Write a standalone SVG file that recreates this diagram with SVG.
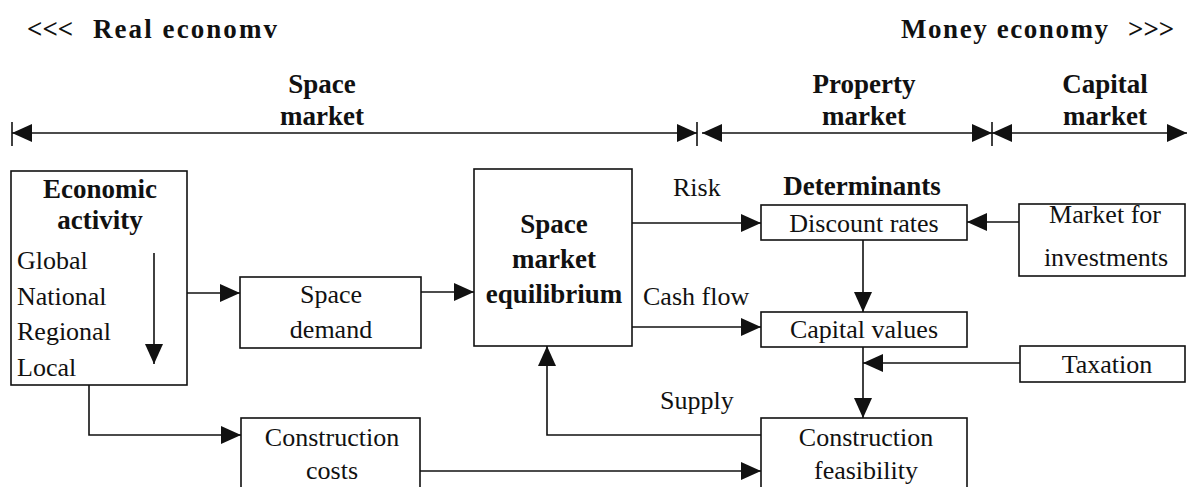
<svg xmlns="http://www.w3.org/2000/svg" width="1187" height="487" viewBox="0 0 1187 487">
  <style>
    .box { fill: #fff; stroke: #111; stroke-width: 1.6; }
    .ln { fill: none; stroke: #111; stroke-width: 1.6; }
    .t { font-family: "Liberation Serif", "Times New Roman", serif; font-size: 26px; fill: #111; }
    .b { font-weight: bold; font-size: 27px; }
    .c { text-anchor: middle; }
  </style>
  <defs>
    <marker id="arr" viewBox="0 0 20 18" refX="20" refY="9" markerWidth="20" markerHeight="18" orient="auto-start-reverse" markerUnits="userSpaceOnUse">
      <path d="M0,0 L20,9 L0,18 Z" fill="#111"/>
    </marker>
  </defs>

  <!-- economy headings -->
  <g id="headings">
    <text class="t b" x="27" y="38" xml:space="preserve">&lt;&lt;&lt;</text>
    <text class="t b" x="93" y="38" textLength="184" lengthAdjust="spacing">Real economv</text>
    <text class="t b" x="901" y="38" textLength="207" lengthAdjust="spacing">Money economy</text>
    <text class="t b" x="1128" y="38">&gt;&gt;&gt;</text>
  </g>

  <!-- market spans -->
  <g id="market-spans">
    <text class="t b c" x="322" y="93">Space</text>
    <text class="t b c" x="322" y="125">market</text>
    <text class="t b c" x="864" y="93">Property</text>
    <text class="t b c" x="864" y="125">market</text>
    <text class="t b c" x="1105" y="93">Capital</text>
    <text class="t b c" x="1105" y="125">market</text>
    <line class="ln" x1="12" y1="122" x2="12" y2="146"/>
    <line class="ln" x1="697" y1="122" x2="697" y2="146"/>
    <line class="ln" x1="992" y1="122" x2="992" y2="146"/>
    <line class="ln" x1="12" y1="133" x2="697" y2="133" marker-start="url(#arr)" marker-end="url(#arr)"/>
    <line class="ln" x1="702" y1="133" x2="992" y2="133" marker-start="url(#arr)" marker-end="url(#arr)"/>
    <line class="ln" x1="992" y1="133" x2="1187" y2="133" marker-start="url(#arr)" marker-end="url(#arr)"/>
  </g>

  <!-- nodes -->
  <g id="economic-activity">
    <rect class="box" x="11" y="171" width="176" height="214"/>
    <text class="t b c" x="100" y="198">Economic</text>
    <text class="t b c" x="100" y="229">activity</text>
    <text class="t" x="17" y="269">Global</text>
    <text class="t" x="17" y="305">National</text>
    <text class="t" x="17" y="340">Regional</text>
    <text class="t" x="17" y="376">Local</text>
    <line class="ln" x1="154" y1="253" x2="154" y2="364" marker-end="url(#arr)"/>
  </g>

  <g id="space-demand">
    <rect class="box" x="240" y="277" width="181" height="71"/>
    <text class="t c" x="331" y="303">Space</text>
    <text class="t c" x="331" y="338">demand</text>
  </g>

  <g id="space-market-equilibrium">
    <rect class="box" x="474" y="169" width="158" height="177"/>
    <text class="t b c" x="554" y="233">Space</text>
    <text class="t b c" x="554" y="268">market</text>
    <text class="t b c" x="554" y="303">equilibrium</text>
  </g>

  <g id="determinants">
    <text class="t b c" x="862" y="195">Determinants</text>
  </g>

  <g id="discount-rates">
    <rect class="box" x="761" y="205" width="206" height="35"/>
    <text class="t c" x="864" y="232">Discount rates</text>
  </g>

  <g id="capital-values">
    <rect class="box" x="761" y="312" width="206" height="35"/>
    <text class="t c" x="864" y="338">Capital values</text>
  </g>

  <g id="market-for-investments">
    <rect class="box" x="1019" y="204" width="166" height="72"/>
    <text class="t c" x="1105" y="223">Market for</text>
    <text class="t c" x="1106" y="266">investments</text>
  </g>

  <g id="taxation">
    <rect class="box" x="1020" y="346" width="165" height="36"/>
    <text class="t c" x="1107" y="373">Taxation</text>
  </g>

  <g id="construction-costs">
    <rect class="box" x="241" y="418" width="179" height="80"/>
    <text class="t c" x="332" y="446">Construction</text>
    <text class="t c" x="332" y="479">costs</text>
  </g>

  <g id="construction-feasibility">
    <rect class="box" x="761" y="418" width="206" height="80"/>
    <text class="t c" x="866" y="446">Construction</text>
    <text class="t c" x="866" y="479">feasibility</text>
  </g>

  <!-- connectors -->
  <g id="connectors">
    <line class="ln" x1="187" y1="293" x2="240" y2="293" marker-end="url(#arr)"/>
    <line class="ln" x1="421" y1="292" x2="474" y2="292" marker-end="url(#arr)"/>
    <line class="ln" x1="632" y1="223" x2="761" y2="223" marker-end="url(#arr)"/>
    <line class="ln" x1="632" y1="327" x2="761" y2="327" marker-end="url(#arr)"/>
    <line class="ln" x1="1019" y1="222" x2="967" y2="222" marker-end="url(#arr)"/>
    <line class="ln" x1="863" y1="240" x2="863" y2="312" marker-end="url(#arr)"/>
    <line class="ln" x1="863" y1="347" x2="863" y2="418" marker-end="url(#arr)"/>
    <line class="ln" x1="1020" y1="363" x2="863" y2="363" marker-end="url(#arr)"/>
    <polyline class="ln" points="761,435 547,435 547,346" marker-end="url(#arr)"/>
    <polyline class="ln" points="89,385 89,435 241,435" marker-end="url(#arr)"/>
    <line class="ln" x1="420" y1="471" x2="761" y2="471" marker-end="url(#arr)"/>
    <text class="t" x="673" y="196">Risk</text>
    <text class="t" x="643" y="305">Cash flow</text>
    <text class="t" x="660" y="409">Supply</text>
  </g>
</svg>
